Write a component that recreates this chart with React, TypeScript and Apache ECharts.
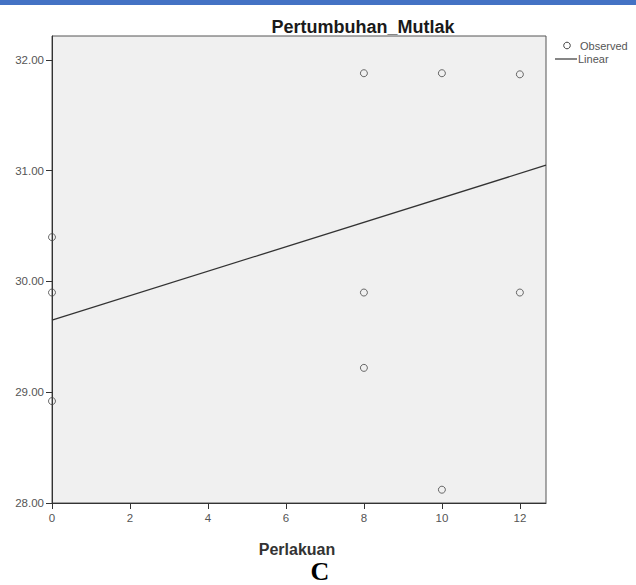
import React, { useEffect, useRef } from "react";
import * as echarts from "echarts";

const obsX = [0, 0, 0, 8, 8, 8, 10, 10, 12, 12];
const obsY = [30.4, 29.9, 28.92, 31.88, 29.9, 29.22, 31.88, 28.12, 31.87, 29.9];
const linX = [0, 12.67];
const linY = [29.65, 31.05];
const xTicks = [0, 2, 4, 6, 8, 10, 12];
const yTicks = [28, 29, 30, 31, 32];
const title = "Pertumbuhan_Mutlak";
const xTitle = "Perlakuan";
const panel = "C";
const legendNames = ["Observed", "Linear"];

export default function App() {
  const ref = useRef<HTMLDivElement>(null);
  useEffect(() => {
    if (!ref.current) return;
    const chart = echarts.init(ref.current, null, { renderer: "svg" });
    const sans = "Liberation Sans, Arial, sans-serif";
    const labelStyle = { color: "#555", fontSize: 11.5, fontFamily: sans };
    chart.setOption({
      animation: false,
      backgroundColor: "#ffffff",
      grid: {
        left: 52,
        top: 36,
        width: 494,
        height: 467,
        show: true,
        backgroundColor: "#f0f0f0",
        borderColor: "#555",
        borderWidth: 1,
      },
      title: [
        {
          text: title,
          left: 358,
          top: 13,
          textAlign: "center",
          textStyle: { fontSize: 18, fontWeight: "bold", color: "#1a1a1a", fontFamily: sans },
        },
        {
          text: xTitle,
          left: 292,
          top: 536,
          textAlign: "center",
          textStyle: { fontSize: 16, fontWeight: "bold", color: "#333", fontFamily: sans },
        },
      ],
      graphic: [
        { type: "rect", shape: { x: 0, y: 0, width: 636, height: 5 }, style: { fill: "#4472C4" }, silent: true },
        { type: "circle", shape: { cx: 567, cy: 45.5, r: 3.3 }, style: { fill: "none", stroke: "#444", lineWidth: 1 }, silent: true },
        { type: "text", x: 580, y: 45.5, style: { text: legendNames[0], fill: "#555", fontSize: 11, fontFamily: sans, verticalAlign: "middle" }, silent: true },
        { type: "line", shape: { x1: 555, y1: 59, x2: 577, y2: 59 }, style: { stroke: "#444", lineWidth: 1.3 }, silent: true },
        { type: "text", x: 578, y: 59, style: { text: legendNames[1], fill: "#555", fontSize: 11, fontFamily: sans, verticalAlign: "middle" }, silent: true },
        { type: "text", x: 320, y: 584, style: { text: panel, fill: "#000", fontSize: 26, fontWeight: "bold", fontFamily: "Liberation Serif, Times New Roman, serif", align: "center", verticalAlign: "bottom" }, silent: true },
      ],
      xAxis: {
        type: "value",
        min: 0,
        max: 12.67,
        interval: 2,
        splitLine: { show: false },
        axisLine: { show: true, onZero: false, lineStyle: { color: "#333" } },
        axisTick: { show: true, length: 6, customValues: xTicks, lineStyle: { color: "#333" } },
        axisLabel: { ...labelStyle, margin: 9, customValues: xTicks, formatter: (v: number) => String(v) },
      },
      yAxis: {
        type: "value",
        min: 28,
        max: 32.216,
        interval: 1,
        splitLine: { show: false },
        axisLine: { show: true, onZero: false, lineStyle: { color: "#333" } },
        axisTick: { show: true, length: 6, customValues: yTicks, lineStyle: { color: "#333" } },
        axisLabel: { ...labelStyle, margin: 8, customValues: yTicks, formatter: (v: number) => v.toFixed(2) },
      },
      series: [
        {
          name: legendNames[0],
          type: "scatter",
          symbol: "circle",
          symbolSize: 7,
          itemStyle: { color: "rgba(0,0,0,0)", borderColor: "#444", borderWidth: 1 },
          data: obsX.map((x, i) => [x, obsY[i]]),
        },
        {
          name: legendNames[1],
          type: "line",
          symbol: "none",
          lineStyle: { color: "#333", width: 1.3 },
          itemStyle: { color: "#333" },
          data: linX.map((x, i) => [x, linY[i]]),
        },
      ],
    });
    return () => chart.dispose();
  }, []);
  return <div ref={ref} style={{ position: "absolute", left: 0, top: 0, width: 636, height: 585 }} />;
}
